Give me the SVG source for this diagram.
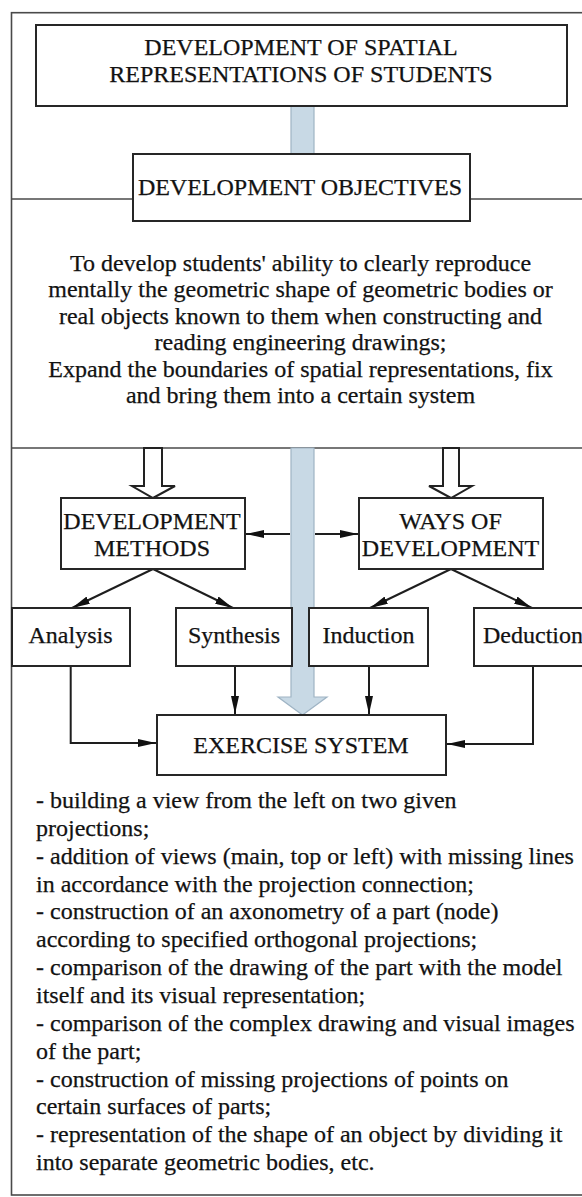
<svg xmlns="http://www.w3.org/2000/svg" width="582" height="1197" viewBox="0 0 582 1197" font-family="'Liberation Serif', 'Times New Roman', 'DejaVu Serif', serif">
<defs>
<style>
.box{fill:#fff;stroke:#262626;stroke-width:2}
.t{font-family:'Liberation Serif','Times New Roman','DejaVu Serif',serif;font-size:24px;fill:#121212;stroke:#121212;stroke-width:0.25}
.c{text-anchor:middle}
.ln{stroke:#1e1e1e;stroke-width:2;fill:none}
.frame{stroke:#4a4a4a;stroke-width:1.6;fill:none}
.blue{fill:#c8d9e5;stroke:#9fb4c4;stroke-width:1.2}
.hollow{fill:#fff;stroke:#222;stroke-width:2;stroke-linejoin:miter}
</style>
<marker id="ah" markerUnits="userSpaceOnUse" markerWidth="18" markerHeight="8" viewBox="0 0 18 8" refX="18" refY="4" orient="auto">
<path d="M0,0 L18,4 L0,8 z" fill="#111"/>
</marker>
</defs>
<rect width="582" height="1197" fill="#fff"/>
<g id="frame">
<rect class="frame" x="11.5" y="12.7" width="620" height="1182.3"/>
<line class="frame" x1="11.5" y1="199" x2="582" y2="199"/>
<line class="frame" x1="11.5" y1="448" x2="582" y2="448"/>
</g>
<g id="connectors">
<rect class="blue" x="291" y="106" width="23" height="48"/>
<polygon class="blue" points="291,448 291,697 278,697 302.5,715 327,697 314,697 314,448"/>
<polygon class="hollow" points="144,448 144,486 132,486 153,498 175,486 162,486 162,448"/>
<polygon class="hollow" points="443,448 443,486 429,486 451,498 472,486 459,486 459,448"/>
<line class="ln" x1="290" y1="534" x2="246" y2="534" marker-end="url(#ah)"/>
<line class="ln" x1="315" y1="534" x2="358" y2="534" marker-end="url(#ah)"/>
<line class="ln" x1="153" y1="569" x2="72" y2="608" marker-end="url(#ah)"/>
<line class="ln" x1="153" y1="569" x2="233" y2="608" marker-end="url(#ah)"/>
<line class="ln" x1="451" y1="569" x2="370" y2="608" marker-end="url(#ah)"/>
<line class="ln" x1="451" y1="569" x2="532" y2="608" marker-end="url(#ah)"/>
<line class="ln" x1="235" y1="666" x2="235" y2="714" marker-end="url(#ah)"/>
<line class="ln" x1="369" y1="666" x2="369" y2="714" marker-end="url(#ah)"/>
<path class="ln" d="M70.7,666 V743 H156" marker-end="url(#ah)"/>
<path class="ln" d="M533,666 V744 H447" marker-end="url(#ah)"/>
</g>
<g id="title">
<rect class="box" x="36" y="25" width="531" height="81"/>
<text class="t c" x="301" y="55">DEVELOPMENT OF SPATIAL</text>
<text class="t c" x="301" y="82">REPRESENTATIONS OF STUDENTS</text>
</g>
<g id="objectives">
<rect class="box" x="133" y="154" width="337" height="67"/>
<text class="t c" x="300" y="195">DEVELOPMENT OBJECTIVES</text>
</g>
<g id="objectives-text">
<text class="t c" x="300.5" y="270.5">To develop students' ability to clearly reproduce</text>
<text class="t c" x="300.5" y="297">mentally the geometric shape of geometric bodies or</text>
<text class="t c" x="300.5" y="323.5">real objects known to them when constructing and</text>
<text class="t c" x="300.5" y="350">reading engineering drawings;</text>
<text class="t c" x="300.5" y="376.5">Expand the boundaries of spatial representations, fix</text>
<text class="t c" x="300.5" y="403">and bring them into a certain system</text>
</g>
<g id="methods">
<rect class="box" x="61" y="498" width="184" height="71"/>
<text class="t c" x="152" y="529">DEVELOPMENT</text>
<text class="t c" x="152" y="556">METHODS</text>
</g>
<g id="ways">
<rect class="box" x="359" y="498" width="184" height="71"/>
<text class="t c" x="450.5" y="529">WAYS OF</text>
<text class="t c" x="450.5" y="556">DEVELOPMENT</text>
</g>
<g id="analysis">
<rect class="box" x="12" y="608" width="118" height="58"/>
<text class="t c" x="70.5" y="643">Analysis</text>
</g>
<g id="synthesis">
<rect class="box" x="176" y="608" width="116" height="58"/>
<text class="t c" x="234" y="643">Synthesis</text>
</g>
<g id="induction">
<rect class="box" x="309" y="608" width="119" height="58"/>
<text class="t c" x="368.5" y="643">Induction</text>
</g>
<g id="deduction">
<rect class="box" x="474" y="608" width="140" height="58"/>
<text class="t" x="483" y="643">Deduction</text>
</g>
<g id="exercise">
<rect class="box" x="157" y="715" width="289" height="60"/>
<text class="t c" x="301" y="753">EXERCISE SYSTEM</text>
</g>
<g id="exercise-list">
<text class="t" x="36" y="808">- building a view from the left on two given</text>
<text class="t" x="36" y="835.9">projections;</text>
<text class="t" x="36" y="863.7">- addition of views (main, top or left) with missing lines</text>
<text class="t" x="36" y="891.6">in accordance with the projection connection;</text>
<text class="t" x="36" y="919.4">- construction of an axonometry of a part (node)</text>
<text class="t" x="36" y="947.3">according to specified orthogonal projections;</text>
<text class="t" x="36" y="975.1">- comparison of the drawing of the part with the model</text>
<text class="t" x="36" y="1003">itself and its visual representation;</text>
<text class="t" x="36" y="1030.8">- comparison of the complex drawing and visual images</text>
<text class="t" x="36" y="1058.7">of the part;</text>
<text class="t" x="36" y="1086.5">- construction of missing projections of points on</text>
<text class="t" x="36" y="1114.4">certain surfaces of parts;</text>
<text class="t" x="36" y="1142.2">- representation of the shape of an object by dividing it</text>
<text class="t" x="36" y="1170">into separate geometric bodies, etc.</text>
</g>
</svg>
